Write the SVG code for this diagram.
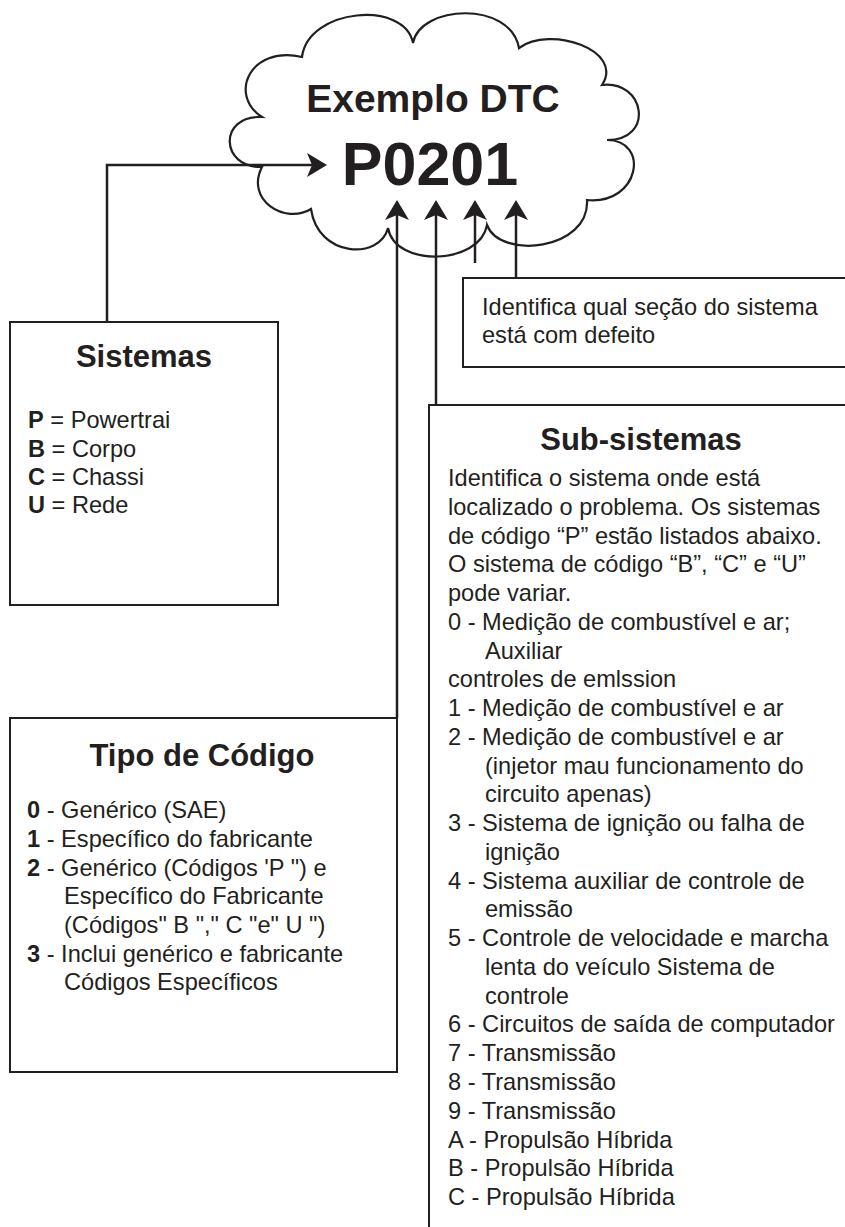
<svg xmlns="http://www.w3.org/2000/svg" width="845" height="1227" viewBox="0 0 845 1227">
<style>
  .box { fill: #ffffff; stroke: #231f20; stroke-width: 2; }
  .cloud { fill: #ffffff; stroke: #231f20; stroke-width: 2.2; stroke-linejoin: miter; }
  .conn { fill: none; stroke: #231f20; stroke-width: 2.5; }
  text { font-family: "Liberation Sans", Arial, sans-serif; fill: #231f20; }
  .title { font-size: 31px; font-weight: bold; text-anchor: middle; }
  .body { font-size: 23.6px; }
  .b { font-weight: bold; }
</style>
<defs>
  <marker id="arrow" viewBox="0 0 20 24" markerWidth="20" markerHeight="24" refX="16" refY="12" orient="auto" markerUnits="userSpaceOnUse">
    <path d="M0,0 L20,12 L0,24 L5,12 Z" fill="#231f20"/>
  </marker>
</defs>
<rect width="845" height="1227" fill="#ffffff"/>

<g id="cloud">
  <path class="cloud" d="M302,57 C308,8 405,0 413,43 C420,5 510,0 519,48 C550,25 625,50 602,85 C645,80 655,140 607,140 C650,140 640,205 587,200 C590,250 500,260 487,225 C480,265 395,268 388,228 C380,260 318,258 311,209 C285,225 245,200 262,167 C220,168 218,115 262,117 C228,95 250,45 302,57 Z"/>
  <text x="433" y="112" text-anchor="middle" font-size="39" font-weight="bold">Exemplo DTC</text>
  <text x="430" y="185" text-anchor="middle" font-size="61" font-weight="bold">P0201</text>
</g>

<g id="connectors">
  <polyline class="conn" points="107,322 107,165 323,165" marker-end="url(#arrow)"/>
  <line class="conn" x1="397" y1="718" x2="397" y2="204" marker-end="url(#arrow)"/>
  <line class="conn" x1="436" y1="405" x2="436" y2="204" marker-end="url(#arrow)"/>
  <line class="conn" x1="475" y1="263" x2="475" y2="204" marker-end="url(#arrow)"/>
  <line class="conn" x1="516" y1="278" x2="516" y2="204" marker-end="url(#arrow)"/>
</g>

<g id="sistemas">
  <rect class="box" x="10" y="322" width="268" height="283"/>
  <text class="title" x="144" y="367">Sistemas</text>
  <text class="body" x="28" y="428"><tspan class="b">P</tspan> = Powertrai</text>
  <text class="body" x="28" y="457"><tspan class="b">B</tspan> = Corpo</text>
  <text class="body" x="28" y="485"><tspan class="b">C</tspan> = Chassi</text>
  <text class="body" x="28" y="513"><tspan class="b">U</tspan> = Rede</text>
</g>

<g id="tipo">
  <rect class="box" x="10" y="718" width="387" height="354"/>
  <text class="title" x="202" y="766">Tipo de Código</text>
  <text class="body" x="27" y="818"><tspan class="b">0</tspan> - Genérico (SAE)</text>
  <text class="body" x="27" y="847"><tspan class="b">1</tspan> - Específico do fabricante</text>
  <text class="body" x="27" y="876"><tspan class="b">2</tspan> - Genérico (Códigos 'P ") e</text>
  <text class="body" x="64" y="904">Específico do Fabricante</text>
  <text class="body" x="64" y="933">(Códigos" B "," C "e" U ")</text>
  <text class="body" x="27" y="962"><tspan class="b">3</tspan> - Inclui genérico e fabricante</text>
  <text class="body" x="64" y="990">Códigos Específicos</text>
</g>

<g id="secao">
  <rect class="box" x="463" y="278" width="400" height="89"/>
  <text class="body" x="482" y="315">Identifica qual seção do sistema</text>
  <text class="body" x="482" y="343">está com defeito</text>
</g>

<g id="subsistemas">
  <rect class="box" x="429" y="405" width="430" height="840"/>
  <text class="title" x="641" y="450">Sub-sistemas</text>
  <text class="body" x="448" y="486">Identifica o sistema onde está</text>
  <text class="body" x="448" y="514.8">localizado o problema. Os sistemas</text>
  <text class="body" x="448" y="543.5">de código “P” estão listados abaixo.</text>
  <text class="body" x="448" y="572.3">O sistema de código “B”, “C” e “U”</text>
  <text class="body" x="448" y="601">pode variar.</text>
  <text class="body" x="448" y="629.8">0 - Medição de combustível e ar;</text>
  <text class="body" x="485" y="658.6">Auxiliar</text>
  <text class="body" x="448" y="687.3">controles de emlssion</text>
  <text class="body" x="448" y="716.1">1 - Medição de combustível e ar</text>
  <text class="body" x="448" y="744.8">2 - Medição de combustível e ar</text>
  <text class="body" x="485" y="773.6">(injetor mau funcionamento do</text>
  <text class="body" x="485" y="802.4">circuito apenas)</text>
  <text class="body" x="448" y="831.1">3 - Sistema de ignição ou falha de</text>
  <text class="body" x="485" y="859.9">ignição</text>
  <text class="body" x="448" y="888.6">4 - Sistema auxiliar de controle de</text>
  <text class="body" x="485" y="917.4">emissão</text>
  <text class="body" x="448" y="946.2">5 - Controle de velocidade e marcha</text>
  <text class="body" x="485" y="974.9">lenta do veículo Sistema de</text>
  <text class="body" x="485" y="1003.7">controle</text>
  <text class="body" x="448" y="1032.4">6 - Circuitos de saída de computador</text>
  <text class="body" x="448" y="1061.2">7 - Transmissão</text>
  <text class="body" x="448" y="1090">8 - Transmissão</text>
  <text class="body" x="448" y="1118.7">9 - Transmissão</text>
  <text class="body" x="448" y="1147.5">A - Propulsão Híbrida</text>
  <text class="body" x="448" y="1176.2">B - Propulsão Híbrida</text>
  <text class="body" x="448" y="1205">C - Propulsão Híbrida</text>
</g>
</svg>
